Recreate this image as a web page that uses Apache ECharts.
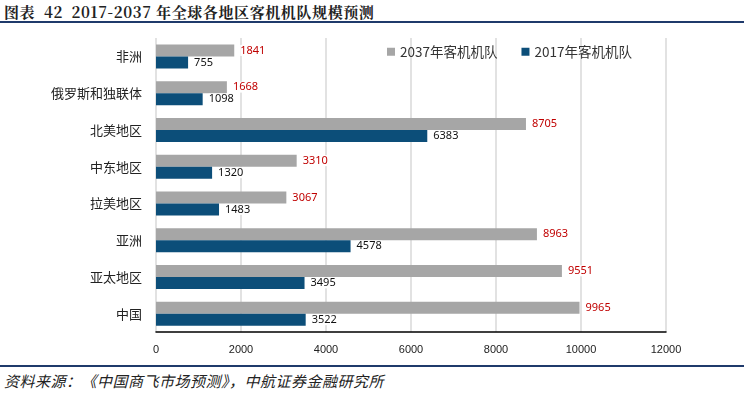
<!DOCTYPE html>
<html><head><meta charset="utf-8">
<script src="https://cdn.jsdelivr.net/npm/echarts@6/dist/echarts.min.js"></script>
<style>
html,body{margin:0;padding:0;background:#fff;}
#wrap{position:relative;width:744px;height:394px;overflow:hidden;}
#title{position:absolute;left:4px;top:1px;font-family:"Noto Serif CJK SC","Noto Sans CJK SC",serif;font-weight:bold;font-size:15px;color:#222;letter-spacing:0.6px;white-space:pre;}
#tline{position:absolute;left:0;top:21px;width:744px;height:2px;background:#1F3A6B;}
#bline{position:absolute;left:0;top:365px;width:744px;height:1.5px;background:#1F3A6B;}
#src{position:absolute;left:4px;top:370px;font-family:"Noto Sans CJK SC",serif;font-style:italic;font-size:15px;color:#222;letter-spacing:0.5px;white-space:pre;}
#chart{position:absolute;left:0;top:24px;width:744px;height:340px;}
</style></head>
<body><div id="wrap">
<div id="title">图表  42  2017-2037 年全球各地区客机机队规模预测</div>
<div id="tline"></div>
<div id="chart"></div>
<div id="bline"></div>
<div id="src">资料来源：《中国商飞市场预测》，中航证券金融研究所</div>
</div>
<script>
const categories = ["非洲","俄罗斯和独联体","北美地区","中东地区","拉美地区","亚洲","亚太地区","中国"];
const fleet2037 = [1841,1668,8705,3310,3067,8963,9551,9965];
const fleet2017 = [755,1098,6383,1320,1483,4578,3495,3522];
const seriesNames = ["2037年客机机队","2017年客机机队"];
const xTicks = [0,2000,4000,6000,8000,10000,12000];

const chart = echarts.init(document.getElementById('chart'), null, {renderer:'canvas'});
const font = '"Microsoft YaHei","Noto Sans CJK SC",sans-serif';
chart.setOption({
  animation:false,
  textStyle:{fontFamily:font},
  legend:{
    data:seriesNames, top:16, left:382, itemWidth:8, itemHeight:8, itemGap:24,
    icon:'rect', textStyle:{fontSize:13.5,color:'#333',fontFamily:font}
  },
  grid:{left:156, right:78, top:14, bottom:32, containLabel:false},
  xAxis:{
    type:'value', min:xTicks[0], max:xTicks[xTicks.length-1], interval:2000,
    axisLine:{show:true,lineStyle:{color:'#000',width:1.5}},
    axisTick:{show:false},
    axisLabel:{fontSize:11,color:'#222',margin:12,fontFamily:'Arial, "Liberation Sans", sans-serif',
               formatter:function(v){return String(v);}},
    splitLine:{show:true,lineStyle:{color:'#D9D9D9',width:1.5}}
  },
  yAxis:{
    type:'category', data:categories, inverse:true,
    axisLine:{show:false}, axisTick:{show:false},
    axisLabel:{fontSize:13,color:'#222',margin:14,fontFamily:font}
  },
  series:[
    {name:seriesNames[0], type:'bar', data:fleet2037, barWidth:12, barGap:'0%',
     itemStyle:{color:'#A6A6A6'},
     label:{show:true,position:'right',distance:6,color:'#C00000',fontSize:11,
            backgroundColor:'#fff',fontFamily:'"Microsoft YaHei","Noto Sans",sans-serif',
            formatter:function(p){return String(p.value);}}},
    {name:seriesNames[1], type:'bar', data:fleet2017, barWidth:12, barGap:'0%',
     itemStyle:{color:'#0C4E79'},
     label:{show:true,position:'right',distance:6,color:'#111',fontSize:11,
            backgroundColor:'#fff',fontFamily:'"Microsoft YaHei","Noto Sans",sans-serif',
            formatter:function(p){return String(p.value);}}}
  ]
});
</script>
</body></html>
